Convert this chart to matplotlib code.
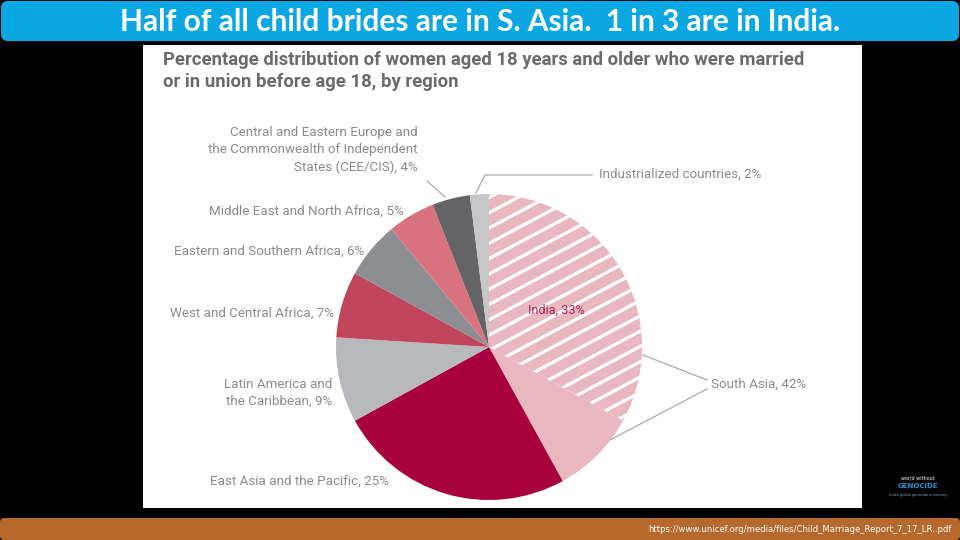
import numpy as np
import matplotlib
matplotlib.use("Agg")
import matplotlib.pyplot as plt
from matplotlib.patches import Rectangle, FancyBboxPatch

# Data
regions = ['South Asia (India)', 'South Asia (rest)', 'East Asia and the Pacific',
           'Latin America and the Caribbean', 'West and Central Africa',
           'Eastern and Southern Africa', 'Middle East and North Africa',
           'CEE/CIS', 'Industrialized countries']
shares = [33, 9, 25, 9, 7, 6, 5, 4, 2]
colors = ['#e9b8bf', '#e9b8bf', '#a8003d', '#b8b9bc', '#c2455e',
          '#8d8e92', '#d8727f', '#646466', '#c6c7c9']

label_texts = {
    'cee': 'Central and Eastern Europe and\nthe Commonwealth of Independent\nStates (CEE/CIS), 4%',
    'mena': 'Middle East and North Africa, 5%',
    'esa': 'Eastern and Southern Africa, 6%',
    'wca': 'West and Central Africa, 7%',
    'lac': 'Latin America and\nthe Caribbean, 9%',
    'eap': 'East Asia and the Pacific, 25%',
    'ind': 'Industrialized countries, 2%',
    'sa': 'South Asia, 42%',
    'india': 'India, 33%',
}

W, H = 960, 540
def py(y):
    # pixel row (from top) -> data y
    return H - y

fig = plt.figure(figsize=(9.6, 5.4), dpi=100, facecolor='black')
ax = fig.add_axes([0, 0, 1, 1])
ax.set_facecolor('black')

# title bar
ax.add_patch(FancyBboxPatch((1, py(41)), 958, 40, boxstyle='round,pad=0,rounding_size=7',
                            fc='#0ba7e3', ec='none'))
ax.text(480, py(22), 'Half of all child brides are in S. Asia.  1 in 3 are in India.',
        color='white', fontsize=21.5, family='Lato', weight='bold', ha='center', va='center')

# bottom bar
ax.add_patch(FancyBboxPatch((0, 0), 960, 22, boxstyle='round,pad=0,rounding_size=4',
                            fc='#b7692d', ec='none'))
ax.text(952, 11, 'https://www.unicef.org/media/files/Child_Marriage_Report_7_17_LR..pdf',
        color='white', fontsize=6.1, family='DejaVu Sans', ha='right', va='center')

# white panel
ax.add_patch(Rectangle((143, py(508)), 719, 463, fc='white', ec='none'))

ax.text(163, py(71), 'Percentage distribution of women aged 18 years and older who were married\n'
        'or in union before age 18, by region', color='#6a6a6a', fontsize=13.3,
        family='Roboto', weight='bold', ha='left', va='center', linespacing=1.35)

# pie
cx, cy, r = 489, py(347), 153
wedges, _ = ax.pie(shares, colors=colors, startangle=90, counterclock=False,
                   center=(cx, cy), radius=r, wedgeprops=dict(linewidth=0))

# white stripes on India slice
india = wedges[0]
ang = np.deg2rad(28)
d = np.array([np.cos(ang), np.sin(ang)])
n = np.array([-np.sin(ang), np.cos(ang)])
for off in np.arange(-300, 300, 13.5):
    p0 = np.array([cx, cy]) + n * off - d * 400
    p1 = np.array([cx, cy]) + n * off + d * 400
    ln, = ax.plot([p0[0], p1[0]], [p0[1], p1[1]], color='white', lw=2.3, solid_capstyle='butt')
    ln.set_clip_path(india)

grey = '#8a8a8a'
lab = dict(color=grey, fontsize=9.6, family='Roboto', linespacing=1.45)
ax.text(418, py(150), label_texts['cee'], ha='right', va='center', **lab)
ax.text(404, py(211), label_texts['mena'], ha='right', va='center', **lab)
ax.text(364, py(251), label_texts['esa'], ha='right', va='center', **lab)
ax.text(334, py(313), label_texts['wca'], ha='right', va='center', **lab)
ax.text(332, py(393), label_texts['lac'], ha='right', va='center', **lab)
ax.text(210, py(481), label_texts['eap'], ha='left', va='center', **lab)
ax.text(599, py(174), label_texts['ind'], ha='left', va='center', **lab)
ax.text(711, py(384), label_texts['sa'], ha='left', va='center', **lab)
ax.text(528, py(310), label_texts['india'], ha='left', va='center', color='#b0245a',
        fontsize=9.2, family='Roboto')

# leader lines
lc = dict(color='#a9a9ab', lw=0.9)
ax.plot([427, 445], [py(181), py(197)], **lc)
ax.plot([592, 485, 476], [py(175), py(175), py(193)], **lc)
ax.plot([707, 643], [py(380), py(355)], **lc)
ax.plot([707, 610], [py(389), py(440)], **lc)

# small logo bottom right
ax.text(918, py(478), 'world without', color='white', fontsize=3.5, ha='center', va='center')
ax.text(918, py(486), 'GENOCIDE', color='#2c8fd0', fontsize=5, weight='bold', ha='center', va='center')
ax.text(918, py(495), 'make global genocide a memory', color='#8fa9bf', fontsize=2.5, ha='center', va='center')

ax.set_xlim(0, W)
ax.set_ylim(0, H)
ax.set_aspect('auto')
ax.axis('off')

fig.savefig('out.png', dpi=100, facecolor='black')
